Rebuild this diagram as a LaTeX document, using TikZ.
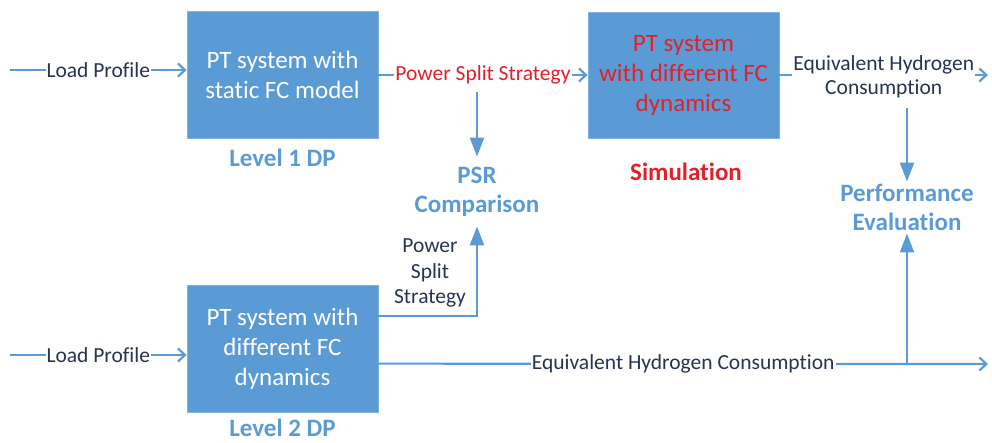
\documentclass[tikz,border=0pt]{standalone}
\usepackage{fontspec}
\setmainfont{Carlito}[Ligatures=NoCommon]
\usetikzlibrary{arrows.meta,calc}
\definecolor{boxblue}{HTML}{5B9BD5}
\definecolor{edgeblue}{HTML}{7FB2E3}
\definecolor{navy}{HTML}{283350}
\definecolor{lblue}{HTML}{5B9BD5}
\definecolor{myred}{HTML}{E3202A}
\begin{document}
\begin{tikzpicture}[x=1pt,y=-1pt,
  blockbox/.style={draw=edgeblue,line width=0.8pt,fill=boxblue,minimum width=191pt,minimum height=127pt,inner sep=0pt,align=center,font=\fontsize{25}{30}\selectfont},
  lbl/.style={text=navy,font=\fontsize{21.5}{23.5}\selectfont,fill=white,inner sep=1pt,align=center},
  ttl/.style={text=lblue,font=\bfseries\fontsize{25}{29}\selectfont,align=center},
  harr/.style={draw=boxblue,line width=2.2pt,-{Straight Barb[length=7pt,width=13pt,line width=2.2pt]}},
  varr/.style={draw=boxblue,line width=2.2pt,-{Triangle[length=19pt,width=14pt]}}]
\useasboundingbox (0,0) rectangle (992,442);

\node[blockbox,text=white] (b1) at (282.5,75) {PT system with\\static FC model};
\node[blockbox,text=myred,minimum height=126pt] (b2) at (683.5,75) {PT system\\with different FC\\dynamics};
\node[blockbox,text=white] (b3) at (282.5,348.5) {PT system with\\different FC\\dynamics};

\node[ttl] (lv1) at (282.5,158) {Level 1 DP};
\node[ttl,text=myred] (sim) at (686,172) {Simulation};
\node[ttl,inner sep=0pt] (lv2) at (282.5,427.5) {Level 2 DP};
\node[ttl,inner ysep=10pt] (psr) at (477,191.5) {PSR\\Comparison};
\node[ttl,inner ysep=2.5pt] (perf) at (907,207.5) {Performance\\Evaluation};

\coordinate (lp1) at (10,70);
\draw[harr] (lp1) -- (lp1 -| b1.west) node[lbl,midway] {Load Profile};

\draw[harr] (b1.east) -- (b2.west) node[lbl,midway,text=myred] {Power Split Strategy};

\coordinate (psd) at (477,92);
\draw[varr] (psd) -- (psr.north);

\coordinate (ehcend) at (988,75);
\draw[harr] (b2.east) -- (ehcend) node[lbl,midway,yshift=-2pt] {Equivalent Hydrogen\\Consumption};

\coordinate (ehd) at (907,108);
\draw[varr] (ehd) -- (perf.north);

\coordinate (lp2) at (10,355);
\draw[harr] (lp2) -- (lp2 -| b3.west) node[lbl,midway] {Load Profile};

\draw[varr] ($(b3.north east)+(0,31)$) -| (psr.south);
\node[lbl,fill=none,font=\fontsize{21.5}{25.5}\selectfont] (pss) at (430,273) {Power\\Split\\Strategy};

\coordinate (ehc2) at (988,364);
\draw[harr] ($(b3.north east)+(0,79)$) -- (ehc2) node[lbl,midway] {Equivalent Hydrogen Consumption};
\draw[varr] (ehc2 -| perf) -- (perf.south);
\end{tikzpicture}
\end{document}
